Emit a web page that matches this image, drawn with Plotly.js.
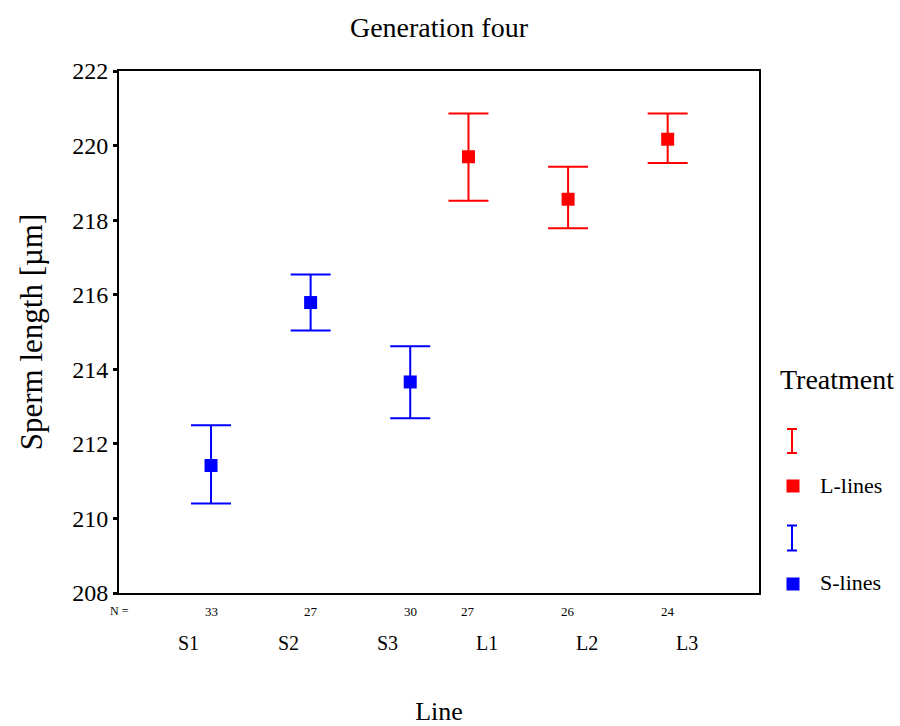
<!DOCTYPE html>
<html>
<head>
<meta charset="utf-8">
<script src="https://cdn.plot.ly/plotly-3.0.1.min.js"></script>
<style>html,body{margin:0;padding:0;background:#fff;}#chart{width:900px;height:726px;}</style>
</head>
<body>
<div id="chart"></div>
<script>
// ---- data ----
const categories = ['S1', 'S2', 'S3', 'L1', 'L2', 'L3'];
const nValues = [33, 27, 30, 27, 26, 24];

const sIndex = [0, 1, 2];
const sMean = [211.42, 215.79, 213.66];
const sUpper = [212.50, 216.54, 214.62];
const sLower = [210.40, 215.04, 212.69];

const lIndex = [3, 4, 5];
const lMean = [219.70, 218.56, 220.17];
const lUpper = [220.86, 219.43, 220.86];
const lLower = [218.52, 217.78, 219.53];

const yTicks = [208, 210, 212, 214, 216, 218, 220, 222];

// ---- layout constants ----
const FONT = 'Liberation Serif, Times New Roman, serif';
const W = 900, H = 726;
const M = {l: 119, r: 141, t: 71, b: 133};
const PW = W - M.l - M.r, PH = H - M.t - M.b;
const px = v => (v - M.l) / PW;          // pixel x -> paper x
const py = v => (H - M.b - v) / PH;      // pixel y -> paper y
const sOffset = 0.225, lOffset = -0.19;  // cluster dodge
const RED = '#ff0000', BLUE = '#0000ff';

function trace(idx, mean, up, lo, off, color) {
  return {
    type: 'scatter', mode: 'markers',
    x: idx.map(i => i + off), y: mean,
    marker: {symbol: 'square', size: 13, color: color},
    error_y: {type: 'data', symmetric: false,
      array: up.map((u, i) => u - mean[i]),
      arrayminus: lo.map((l, i) => mean[i] - l),
      width: 20, thickness: 2, color: color},
    showlegend: false, hoverinfo: 'skip'
  };
}

const data = [
  trace(sIndex, sMean, sUpper, sLower, sOffset, BLUE),
  trace(lIndex, lMean, lUpper, lLower, lOffset, RED)
];

const annotations = [];
// category labels
categories.forEach((c, i) => annotations.push({
  text: c, x: i, xref: 'x', y: py(643), yref: 'paper',
  showarrow: false, xanchor: 'center', yanchor: 'middle',
  font: {family: FONT, size: 20, color: '#000'}
}));
// N row
annotations.push({text: 'N =', x: 0, xref: 'paper', y: py(611), yref: 'paper',
  showarrow: false, xanchor: 'center', yanchor: 'middle',
  font: {family: FONT, size: 12, color: '#000'}});
nValues.forEach((n, i) => annotations.push({
  text: String(n), x: i + (i < 3 ? sOffset : lOffset), xref: 'x', y: py(611), yref: 'paper',
  showarrow: false, xanchor: 'center', yanchor: 'middle',
  font: {family: FONT, size: 13, color: '#000'}
}));
// legend (manual)
annotations.push({text: 'Treatment', x: px(837), xref: 'paper', y: py(379), yref: 'paper',
  showarrow: false, xanchor: 'center', yanchor: 'middle',
  font: {family: FONT, size: 28, color: '#000'}});
annotations.push({text: 'L-lines', x: px(818), xref: 'paper', y: py(485), yref: 'paper',
  showarrow: false, xanchor: 'left', yanchor: 'middle',
  font: {family: FONT, size: 22, color: '#000'}});
annotations.push({text: 'S-lines', x: px(818), xref: 'paper', y: py(582), yref: 'paper',
  showarrow: false, xanchor: 'left', yanchor: 'middle',
  font: {family: FONT, size: 22, color: '#000'}});

function iconBar(cx, cy, h, color) {
  const x0 = px(cx - 5), x1 = px(cx + 5), xc = px(cx);
  const yt = py(cy - h / 2), yb = py(cy + h / 2);
  return {type: 'path', xref: 'paper', yref: 'paper',
    path: `M${x0},${yt} L${x1},${yt} M${xc},${yt} L${xc},${yb} M${x0},${yb} L${x1},${yb}`,
    line: {color: color, width: 2}};
}
function iconSquare(cx, cy, color) {
  return {type: 'rect', xref: 'paper', yref: 'paper',
    x0: px(cx - 6.5), x1: px(cx + 6.5), y0: py(cy + 6.5), y1: py(cy - 6.5),
    fillcolor: color, line: {width: 0}};
}
const shapes = [
  iconBar(792, 441, 24, RED), iconSquare(793, 486, RED),
  iconBar(792, 538, 25, BLUE), iconSquare(793, 584, BLUE)
];

const layout = {
  width: W, height: H,
  margin: M,
  paper_bgcolor: '#fff', plot_bgcolor: '#fff',
  font: {family: FONT, color: '#000'},
  title: {text: 'Generation four', font: {family: FONT, size: 28, color: '#000'},
    x: 0.5, xref: 'paper', xanchor: 'center', y: 1 - 27 / H, yref: 'container', yanchor: 'middle'},
  xaxis: {
    range: [-0.699, 5.727], showgrid: false, zeroline: false,
    showticklabels: false, ticks: '',
    showline: true, mirror: true, linecolor: '#000', linewidth: 2,
    title: {text: 'Line', font: {family: FONT, size: 26, color: '#000'}, standoff: 110}
  },
  yaxis: {
    range: [208, 222], tickvals: yTicks, ticktext: yTicks.map(String),
    showgrid: false, zeroline: false,
    ticks: 'outside', ticklen: 4, tickwidth: 3, tickcolor: '#000',
    tickfont: {family: FONT, size: 24, color: '#000'},
    showline: true, mirror: true, linecolor: '#000', linewidth: 2,
    title: {text: 'Sperm length [µm]', font: {family: FONT, size: 31, color: '#000'}, standoff: 20}
  },
  annotations: annotations,
  shapes: shapes,
  showlegend: false
};

Plotly.newPlot('chart', data, layout, {displayModeBar: false, staticPlot: true});
</script>
</body>
</html>
